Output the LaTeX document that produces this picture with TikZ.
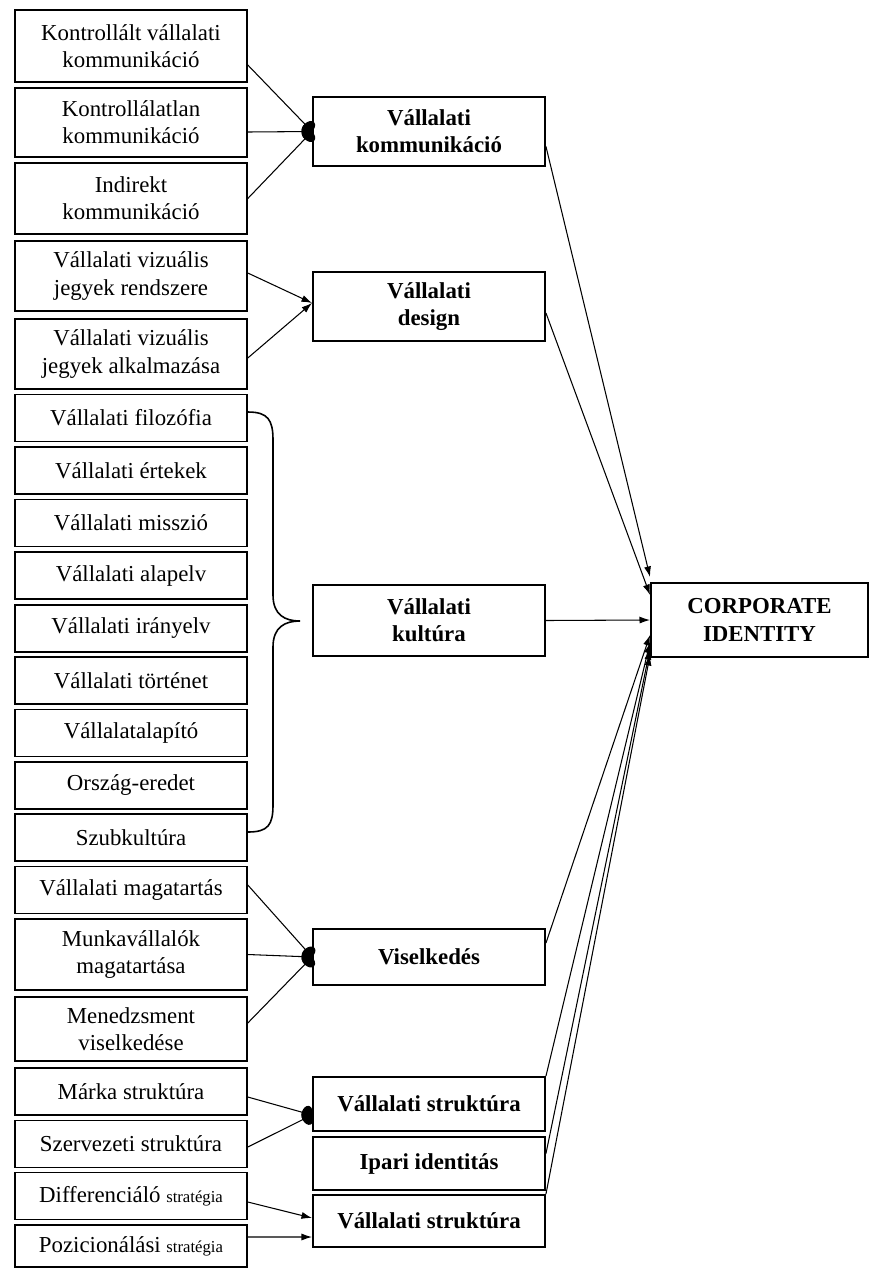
\documentclass[tikz,border=0pt]{standalone}
\usepackage{fontspec}
\setmainfont{Liberation Serif}
\usetikzlibrary{arrows.meta}
\begin{document}
\begin{tikzpicture}[every node/.style={align=center, transform shape, font=\fontsize{13}{15.5}\selectfont}]
\tikzset{
  elem/.style={draw, line width=0.9pt, inner sep=1pt, minimum width=4.64cm, minimum height=0.94cm},
  dim/.style={draw, line width=1.1pt, inner sep=1pt, minimum width=4.64cm, minimum height=1.38cm, font=\fontsize{13}{15.5}\selectfont\bfseries},
  conn/.style={line width=0.6pt, -{Latex[length=6pt,width=4pt]}},
  joint/.style={line width=0.6pt, -{Circle[length=6pt,width=9pt]}}
}
\newcommand{\kicsi}[1]{{\fontsize{9.5}{11}\selectfont #1}}
\useasboundingbox (0,0) rectangle (17.4,-25.36);

% elemek bal oldalon
\node[elem, minimum height=1.44cm] (kontrollalt) at (2.62,-0.92) {Kontrollált vállalati\\kommunikáció};
\node[elem, minimum height=1.38cm] (kontrollalatlan) at (2.62,-2.45) {Kontrollálatlan\\kommunikáció};
\node[elem, minimum height=1.42cm] (indirekt) at (2.62,-3.97) {Indirekt\\kommunikáció};
\node[elem, minimum height=1.40cm] (viz_rendszer) at (2.62,-5.52) {Vállalati vizuális\\jegyek rendszere};
\node[elem, minimum height=1.40cm] (viz_alkalm) at (2.62,-7.08) {Vállalati vizuális\\jegyek alkalmazása};
\node[elem] (filozofia) at (2.62,-8.36) {Vállalati filozófia};
\node[elem] (ertekek) at (2.62,-9.41) {Vállalati értekek};
\node[elem] (misszio) at (2.62,-10.46) {Vállalati misszió};
\node[elem] (alapelv) at (2.62,-11.51) {Vállalati alapelv};
\node[elem] (iranyelv) at (2.62,-12.57) {Vállalati irányelv};
\node[elem] (tortenet) at (2.62,-13.61) {Vállalati történet};
\node[elem] (alapito) at (2.62,-14.66) {Vállalatalapító};
\node[elem] (orszag) at (2.62,-15.71) {Ország-eredet};
\node[elem] (szubkultura) at (2.62,-16.75) {Szubkultúra};
\node[elem] (magatartas) at (2.62,-17.80) {Vállalati magatartás};
\node[elem, minimum height=1.42cm] (munkavall) at (2.62,-19.09) {Munkavállalók\\magatartása};
\node[elem, minimum height=1.28cm] (menedzsment) at (2.62,-20.58) {Menedzsment\\viselkedése};
\node[elem] (marka) at (2.62,-21.83) {Márka struktúra};
\node[elem] (szervezeti) at (2.62,-22.88) {Szervezeti struktúra};
\node[elem] (differencialo) at (2.62,-23.92) {Differenciáló \kicsi{stratégia}};
\node[elem, minimum height=0.84cm] (pozicionalasi) at (2.62,-24.92) {Pozicionálási \kicsi{stratégia}};

% dimenziok
\node[dim] (kommunikacio) at (8.58,-2.63) {Vállalati\\kommunikáció};
\node[dim] (design) at (8.58,-6.13) {Vállalati\\design};
\node[dim, minimum height=1.42cm] (kultura) at (8.58,-12.41) {Vállalati\\kultúra};
\node[dim, minimum height=1.12cm] (viselkedes) at (8.58,-19.14) {Viselkedés};
\node[dim, minimum height=1.08cm] (struktura) at (8.58,-22.08) {Vállalati struktúra};
\node[dim, minimum height=1.06cm] (ipari) at (8.58,-23.27) {Ipari identitás};
\node[dim, minimum height=1.04cm] (struktura_b) at (8.58,-24.42) {Vállalati struktúra};

\node[dim, minimum width=4.34cm, minimum height=1.48cm] (ci) at (15.19,-12.40) {CORPORATE\\IDENTITY};

% bal -> kozep
\draw[joint] ([yshift=-0.38cm]kontrollalt.east) -- (kommunikacio.west);
\draw[joint] ([yshift=-0.19cm]kontrollalatlan.east) -- (kommunikacio.west);
\draw[joint] (indirekt.east) -- (kommunikacio.west);
\draw[conn] ([yshift=0.06cm]viz_rendszer.east) -- ([yshift=0.07cm]design.west);
\draw[conn] ([yshift=-0.08cm]viz_alkalm.east) -- ([yshift=0.07cm]design.west);
\draw[joint] ([yshift=0.1cm]magatartas.east) -- (viselkedes.west);
\draw[joint] (munkavall.east) -- (viselkedes.west);
\draw[joint] ([yshift=0.12cm]menedzsment.east) -- (viselkedes.west);
\draw[joint] ([yshift=-0.11cm]marka.east) -- ([yshift=-0.22cm]struktura.west);
\draw[joint] ([yshift=-0.06cm]szervezeti.east) -- ([yshift=-0.22cm]struktura.west);
\draw[conn] ([yshift=-0.12cm]differencialo.east) -- ([yshift=0.06cm]struktura_b.west);
\draw[conn] ([yshift=0.18cm]pozicionalasi.east) -- ([yshift=-0.32cm]struktura_b.west);

% kapcsos zarojel
\draw[line width=0.9pt] (4.96,-8.24) .. controls (5.36,-8.24) and (5.46,-8.4) .. (5.46,-8.8)
  -- (5.46,-11.9) .. controls (5.46,-12.3) and (5.7,-12.42) .. (6.0,-12.42)
  .. controls (5.7,-12.42) and (5.46,-12.54) .. (5.46,-12.94)
  -- (5.46,-16.1) .. controls (5.46,-16.5) and (5.36,-16.64) .. (4.96,-16.64);

% kozep -> CORPORATE IDENTITY
\draw[conn] ([yshift=-0.3cm]kommunikacio.east) -- ([yshift=0.86cm]ci.west);
\draw[conn] ([yshift=-0.13cm]design.east) -- ([yshift=0.5cm]ci.west);
\draw[conn] (kultura.east) -- (ci.west);
\draw[conn] ([yshift=0.28cm]viselkedes.east) -- ([yshift=-0.3cm]ci.west);
\draw[conn] (struktura.north east) -- ([yshift=-0.45cm]ci.west);
\draw[conn] ([yshift=0.2cm]ipari.east) -- ([yshift=-0.58cm]ci.west);
\draw[conn] (struktura_b.north east) -- ([yshift=-0.7cm]ci.west);
\end{tikzpicture}
\end{document}
